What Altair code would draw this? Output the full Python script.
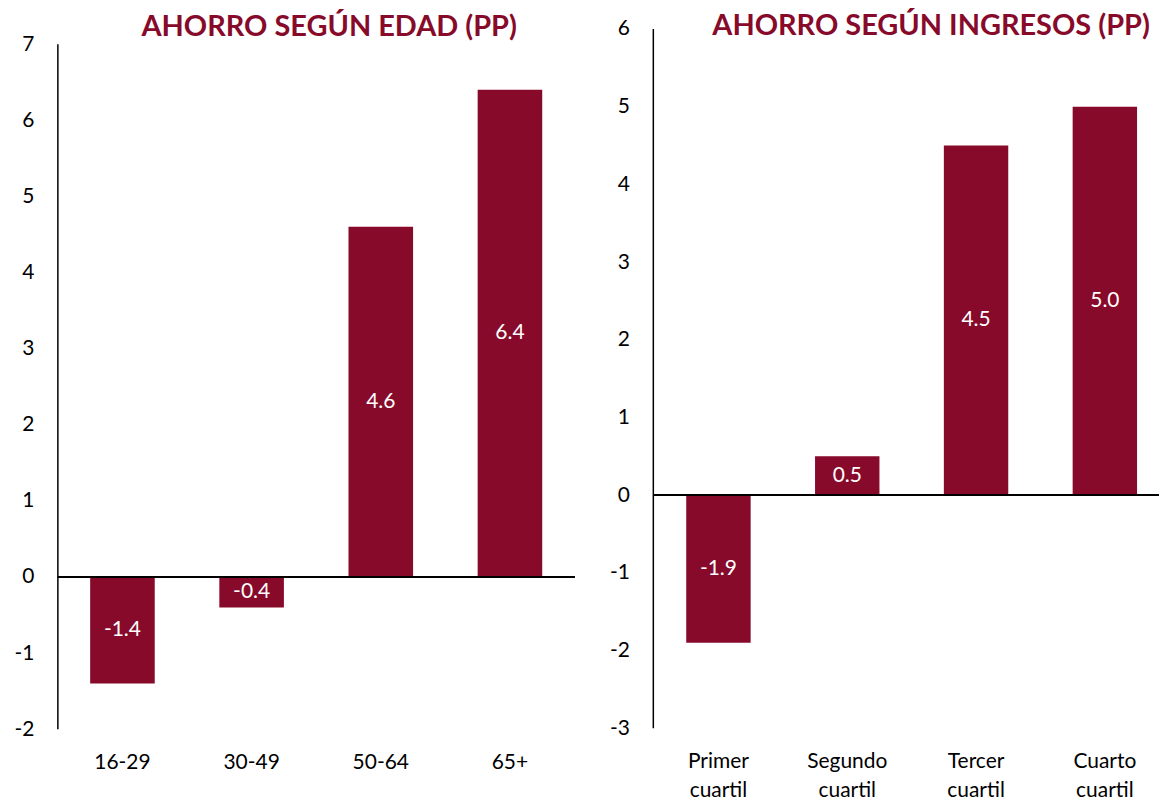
import altair as alt
import pandas as pd

edad_cats = ["16-29", "30-49", "50-64", "65+"]
edad_vals = [-1.4, -0.4, 4.6, 6.4]
edad_ticks = [-2, -1, 0, 1, 2, 3, 4, 5, 6, 7]
edad_domain = [-2, 7.2]

ing_cats = ["Primer cuartil", "Segundo cuartil", "Tercer cuartil", "Cuarto cuartil"]
ing_vals = [-1.9, 0.5, 4.5, 5.0]
ing_ticks = [-3, -2, -1, 0, 1, 2, 3, 4, 5, 6]
ing_domain = [-3, 6]

RED = "#870A2B"
FONT = "Lato"


def panel(cats, vals, ticks, domain, title, width, height, title_dx, title_offset,
          label_pad, pad_outer, band_align):
    df = pd.DataFrame({"cat": cats, "val": vals, "lab": [f"{v:.1f}" for v in vals]})
    base = alt.Chart(df)
    x = alt.X(
        "cat:N",
        sort=cats,
        scale=alt.Scale(paddingInner=0.5, paddingOuter=pad_outer, align=band_align),
        axis=alt.Axis(
            title=None, labelAngle=0, ticks=False, domain=False, labelPadding=label_pad,
            labelExpr="split(datum.label, ' ')", labelLineHeight=30,
            labelFont=FONT, labelFontSize=21, labelColor="black",
        ),
    )
    y = alt.Y(
        "val:Q",
        scale=alt.Scale(domain=domain, nice=False, zero=False),
        axis=alt.Axis(
            title=None, values=ticks, ticks=False, grid=False, domain=False,
            labelPadding=24, labelExpr="datum.value + ''",
            labelFont=FONT, labelFontSize=21, labelColor="black",
        ),
    )
    bars = base.mark_bar(color=RED).encode(x=x, y=y)
    zero = base.mark_rule(color="black", strokeWidth=2).encode(y=alt.datum(0))
    yaxis_line = alt.Chart(pd.DataFrame({"lo": [ticks[0]], "hi": [ticks[-1]]})).mark_rule(
        color="black", strokeWidth=1.5
    ).encode(x=alt.value(0), y="lo:Q", y2="hi:Q")
    text = base.transform_calculate(mid="datum.val / 2").mark_text(
        color="white", font=FONT, fontSize=21, baseline="middle", align="center"
    ).encode(x=alt.X("cat:N", sort=cats), y="mid:Q", text="lab:N")
    return alt.layer(bars, zero, yaxis_line, text).properties(
        width=width,
        height=height,
        title=alt.TitleParams(
            title, color=RED, font=FONT, fontSize=29, fontWeight="bold",
            anchor="middle", offset=title_offset, dx=title_dx,
        ),
    )


left = panel(edad_cats, edad_vals, edad_ticks, edad_domain, "AHORRO SEGÚN EDAD (PP)",
             518, 702, 13, -13, 22, 0.25, 0.5)
right = panel(ing_cats, ing_vals, ing_ticks, ing_domain, "AHORRO SEGÚN INGRESOS (PP)",
              507, 701, 25, -23, 22, 0.213, 0.6)

chart = alt.concat(left, right, columns=2, spacing=34, align="none").properties(
    padding={"left": 6, "top": 3, "right": 0, "bottom": 0}
).configure_view(stroke=None)

chart.save("out.html", embed_options={"renderer": "svg", "actions": False})
